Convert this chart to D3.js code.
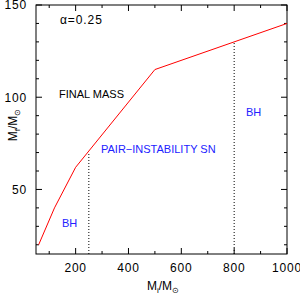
<!DOCTYPE html>
<html><head><meta charset="utf-8">
<script src="https://cdn.jsdelivr.net/npm/d3@7"></script>
<style>body{margin:0;background:#fff}svg{display:block}</style>
</head><body>
<script>
const massInitial = [60, 120, 200, 500, 1000];
const massFinal = [20, 40, 62, 115, 140];
const dividers = [{x: 250, y: 70.3}, {x: 800, y: 130}];
const xMajorTicks = [200, 400, 600, 800, 1000];
const xMinorTicks = [100, 300, 500, 700, 900];
const yMajorTicks = [50, 100, 150];
const yMinorTicks = [20, 30, 40, 60, 70, 80, 90, 110, 120, 130, 140];
const annotations = [
  {text: "FINAL MASS", x: 59, y: 98, color: "#000"},
  {text: "PAIR\u2212INSTABILITY SN", x: 101, y: 153, color: "#2222ff"},
  {text: "BH", x: 62, y: 226.5, color: "#2222ff"},
  {text: "BH", x: 246, y: 116, color: "#2222ff"}
];

const W = 300, H = 298;
const L = 36, R = 287, T = 5, B = 254;
const svg = d3.select("body").append("svg").attr("width", W).attr("height", H);
const x = d3.scaleLinear().domain([50, 1000]).range([L, R]);
const y = d3.scaleLinear().domain([15, 150]).range([B, T]);
const font = "Liberation Sans, Arial, Helvetica, sans-serif";

// frame
svg.append("rect").attr("x", L).attr("y", T).attr("width", R - L).attr("height", B - T)
  .attr("fill", "none").attr("stroke", "#000").attr("stroke-width", 1);

const g = svg.append("g").attr("stroke", "#000").attr("stroke-width", 1);
function xt(v, len) {
  g.append("line").attr("x1", x(v)).attr("x2", x(v)).attr("y1", B).attr("y2", B - len);
  g.append("line").attr("x1", x(v)).attr("x2", x(v)).attr("y1", T).attr("y2", T + len);
}
function yt(v, len) {
  g.append("line").attr("y1", y(v)).attr("y2", y(v)).attr("x1", L).attr("x2", L + len);
  g.append("line").attr("y1", y(v)).attr("y2", y(v)).attr("x1", R).attr("x2", R - len);
}
xMajorTicks.forEach(v => xt(v, 6));
xMinorTicks.forEach(v => xt(v, 3));
yMajorTicks.forEach(v => yt(v, 6));
yMinorTicks.forEach(v => yt(v, 3));

// tick labels
svg.append("g").selectAll("text").data(xMajorTicks).join("text")
  .attr("x", d => x(d)).attr("y", 272).attr("text-anchor", "middle")
  .attr("font-family", font).attr("font-size", 12).attr("letter-spacing", 0.8)
  .text(d => d);
svg.append("g").selectAll("text").data(yMajorTicks).join("text")
  .attr("x", 27).attr("y", d => y(d) + 4.3).attr("text-anchor", "end")
  .attr("font-family", font).attr("font-size", 12).attr("letter-spacing", 0.8)
  .text(d => d);

// dotted dividers
svg.append("g").selectAll("line").data(dividers).join("line")
  .attr("x1", d => x(d.x)).attr("x2", d => x(d.x))
  .attr("y1", B).attr("y2", d => y(d.y))
  .attr("stroke", "#000").attr("stroke-width", 1).attr("stroke-dasharray", "1,2");

// red line
const pts = massInitial.map((m, i) => [m, massFinal[i]]);
svg.append("path").datum(pts)
  .attr("d", d3.line().x(d => x(d[0])).y(d => y(d[1])))
  .attr("fill", "none").attr("stroke", "#ff0000").attr("stroke-width", 1);

// annotations
svg.append("g").selectAll("text").data(annotations).join("text")
  .attr("x", d => d.x).attr("y", d => d.y).attr("fill", d => d.color)
  .attr("font-family", font).attr("font-size", 11).text(d => d.text);

svg.append("text").attr("x", 60).attr("y", 24)
  .attr("font-family", font).attr("font-size", 12).attr("letter-spacing", 0.9)
  .text("\u03b1=0.25");

// axis labels
const xl = svg.append("text").attr("x", 163).attr("y", 290).attr("text-anchor", "middle")
  .attr("font-family", font).attr("font-size", 12);
xl.append("tspan").text("M");
xl.append("tspan").attr("font-size", 8).attr("dy", 3).text("i");
xl.append("tspan").attr("dy", -3).text("/M");
xl.append("tspan").attr("font-size", 8).attr("dy", 3).text("\u2299");

const yl = svg.append("text").attr("transform", "translate(17,125) rotate(-90)")
  .attr("text-anchor", "middle").attr("font-family", font).attr("font-size", 12);
yl.append("tspan").text("M");
yl.append("tspan").attr("font-size", 8).attr("dy", 3).text("f");
yl.append("tspan").attr("dy", -3).text("/M");
yl.append("tspan").attr("font-size", 8).attr("dy", 3).text("\u2299");
</script>
</body></html>
